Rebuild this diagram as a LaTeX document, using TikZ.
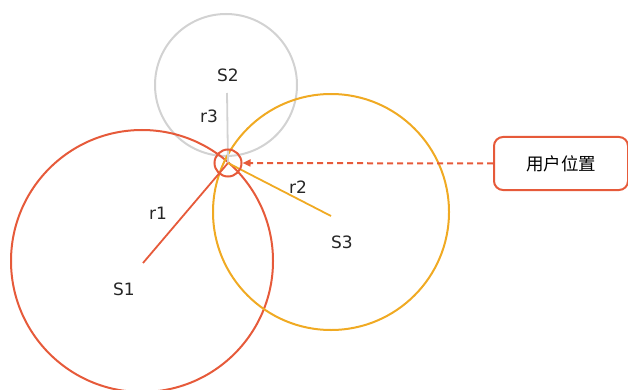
\documentclass[tikz,border=0pt]{standalone}
\usepackage{fontspec}
\setmainfont{DejaVu Sans}
\newfontfamily\cjk{Noto Sans CJK SC}
\usetikzlibrary{arrows.meta}
\definecolor{cred}{RGB}{230,90,58}
\definecolor{corange}{RGB}{240,170,35}
\definecolor{cgrey}{RGB}{210,210,210}
\tikzset{
  lbl/.style={font=\fontsize{17}{20}\selectfont, text=black!85, inner sep=0pt},
  ring/.style={line width=2pt},
}
\begin{document}
\begin{tikzpicture}[x=1pt,y=-1pt]
\useasboundingbox (0,0) rectangle (628,390);
% centers
\coordinate (c1) at (142,261);
\coordinate (c2) at (226,85);
\coordinate (c3) at (331,212);
\coordinate (P) at (228,163);
\coordinate (s1) at (143,263);
\coordinate (s2) at (227,93);
\coordinate (s3) at (331,216);
% big circles
\draw[ring, cgrey] (c2) circle (71);
\draw[ring, cred] (c1) circle (131);
\draw[ring, corange] (c3) circle (118);
% radii
\draw[line width=1.8pt, cgrey] (s2) -- (P);
\draw[line width=1.8pt, cred] (s1) -- (P);
\draw[line width=1.8pt, corange] (s3) -- (P);
% user position circle
\node[circle, draw=cred, line width=2pt, minimum size=27pt, inner sep=0pt] (pc) at (P) {};
% labels
\node[lbl] (S2) at (228,75) {S2};
\node[lbl] (r3) at (209,116) {r3};
\node[lbl] (r2) at (298,187) {r2};
\node[lbl] (S3) at (342,242) {S3};
\node[lbl] (r1) at (158,213) {r1};
\node[lbl] (S1) at (124,289) {S1};
% box
\node[draw=cred, line width=2pt, rounded corners=9pt, minimum width=134pt, minimum height=53pt, inner sep=0pt, font=\cjk\fontsize{17.5}{20}\selectfont] (box) at (561,163.5) {用户位置};
\draw[cred, line width=2pt, dash pattern=on 6pt off 4pt, -{Triangle[length=8pt,width=7pt]}] (box.west) -- (pc.east);
\end{tikzpicture}
\end{document}
